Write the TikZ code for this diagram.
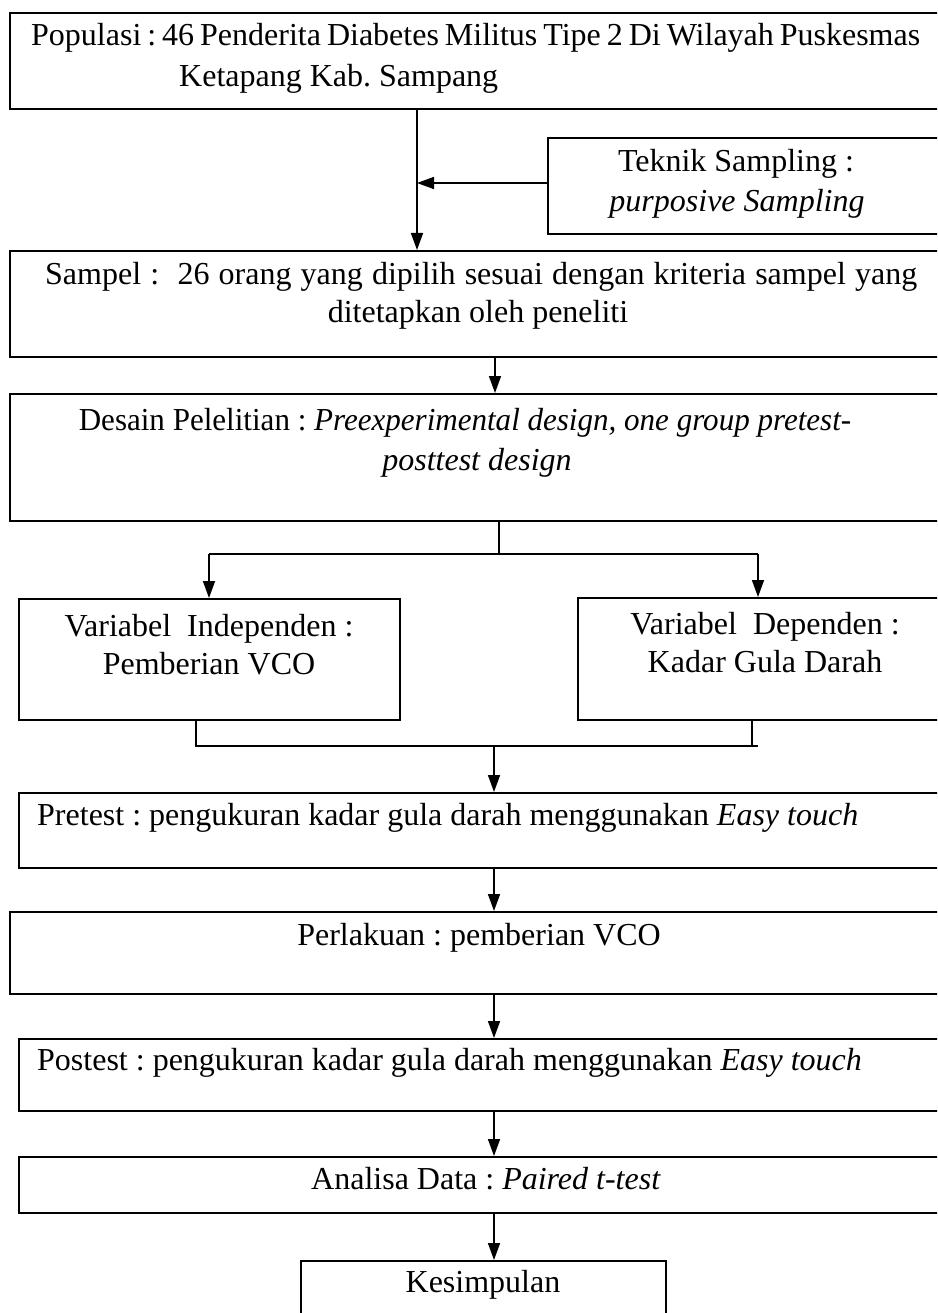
\documentclass[tikz,border=0pt]{standalone}
\usepackage{fontspec}
\usepackage{graphicx}
\setmainfont{Liberation Serif}
\usetikzlibrary{arrows.meta}
\frenchspacing
\begin{document}
\begin{tikzpicture}[x=1pt,y=-1pt,
  box/.style={draw, line width=1.6pt, rectangle, inner sep=0pt, anchor=north west},
  txt/.style={inner sep=0pt, font=\fontsize{32}{37}\selectfont},
  arr/.style={line width=1.6pt, -{Triangle[length=17pt,width=12pt]}},
  ln/.style={line width=1.6pt}]
\useasboundingbox (0,0) rectangle (937,1313);
\clip (0,0) rectangle (937,1313);
% boxes
\node[box, minimum width=941pt, minimum height=96pt]  (pop)  at (9,12) {};
\node[box, minimum width=403pt, minimum height=96pt]  (tek)  at (547,137) {};
\node[box, minimum width=941pt, minimum height=106pt] (samp) at (9,250) {};
\node[box, minimum width=941pt, minimum height=127pt] (des)  at (9,393) {};
\node[box, minimum width=381pt, minimum height=121pt] (vi)   at (18,598) {};
\node[box, minimum width=373pt, minimum height=122pt] (vd)   at (577,597) {};
\node[box, minimum width=932pt, minimum height=75pt]  (pre)  at (18,792) {};
\node[box, minimum width=941pt, minimum height=82pt]  (perl) at (9,911) {};
\node[box, minimum width=932pt, minimum height=72pt]  (post) at (18,1038) {};
\node[box, minimum width=932pt, minimum height=56pt]  (ana)  at (18,1156) {};
\node[box, minimum width=365pt, minimum height=80pt]  (kes)  at (300,1260) {};
% texts
\node[txt, anchor=base west] (t1a) at (31,46) {\makebox[889pt][s]{Populasi : 46 Penderita Diabetes Militus Tipe 2 Di Wilayah Puskesmas}};
\node[txt, anchor=base west] (t1b) at (179,87) {Ketapang Kab. Sampang};
\node[txt, anchor=base] (t2a) at (736,172) {Teknik Sampling :};
\node[txt, anchor=base] (t2b) at (737,212) {\itshape purposive Sampling};
\node[txt, anchor=base west] (t3a) at (45,284) {\makebox[872pt][s]{Sampel :\ \ 26 orang yang dipilih sesuai dengan kriteria sampel yang}};
\node[txt, anchor=base] (t3b) at (478,322) {ditetapkan oleh peneliti};
\node[txt, anchor=base] (t4a) at (465,430) {\scalebox{0.97}[1]{Desain Pelelitian : \textit{Preexperimental design, one group pretest-}}};
\node[txt, anchor=base] (t4b) at (477,470) {\textit{posttest design}};
\node[txt, anchor=base] (t5a) at (209,636) {Variabel\ \ Independen :};
\node[txt, anchor=base] (t5b) at (209,674) {Pemberian VCO};
\node[txt, anchor=base] (t6a) at (765,634) {Variabel\ \ Dependen :};
\node[txt, anchor=base] (t6b) at (765,672) {Kadar Gula Darah};
\node[txt, anchor=base west] (t7) at (37,825) {Pretest : pengukuran kadar gula darah menggunakan \textit{Easy touch}};
\node[txt, anchor=base] (t8) at (479,945) {Perlakuan : pemberian VCO};
\node[txt, anchor=base west] (t9) at (37,1070) {Postest : pengukuran kadar gula darah menggunakan \textit{Easy touch}};
\node[txt, anchor=base] (t10) at (486,1189) {Analisa Data : \textit{Paired t-test}};
\node[txt, anchor=base] (t11) at (483,1292) {Kesimpulan};
% connectors
\coordinate (j1) at (417,183);
\draw[arr] (pop.south -| j1) -- (samp.north -| j1);
\draw[arr] (tek.west |- j1) -- (j1);
\coordinate (c1) at (495,0);
\draw[arr] (samp.south -| c1) -- (des.north -| c1);
\coordinate (b0) at (499,554);
\coordinate (bl) at (209,554);
\coordinate (br) at (758,554);
\draw[ln] (des.south -| b0) -- (b0);
\draw[ln] (bl) -- (br);
\draw[arr] (bl) -- (vi.north -| bl);
\draw[arr] (br) -- (vd.north -| br);
\coordinate (m1) at (196,746);
\coordinate (m2) at (752,746);
\coordinate (mr) at (758,746);
\coordinate (mc) at (494,746);
\draw[ln] (vi.south -| m1) -- (m1) -- (mr);
\draw[ln] (vd.south -| m2) -- (m2);
\draw[arr] (mc) -- (pre.north -| mc);
\draw[arr] (pre.south -| mc) -- (perl.north -| mc);
\draw[arr] (perl.south -| mc) -- (post.north -| mc);
\draw[arr] (post.south -| mc) -- (ana.north -| mc);
\draw[arr] (ana.south -| mc) -- (kes.north -| mc);
\end{tikzpicture}
\end{document}
